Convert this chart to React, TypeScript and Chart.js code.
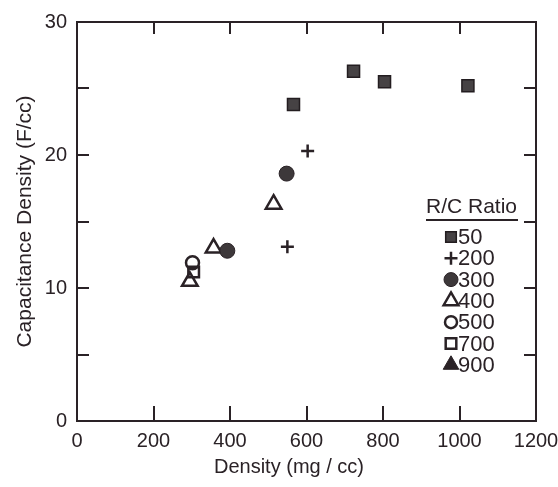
import React, { useEffect, useRef } from "react";
import { Chart, registerables } from "chart.js";
import { drawPoint } from "chart.js/helpers";

Chart.register(...registerables);

// R/C ratio series (x: density mg/cc, y: capacitance density F/cc)
const ratioLabels = ["50", "200", "300", "400", "500", "700", "900"];
const rc50X = [566, 723, 804, 1022];
const rc50Y = [23.8, 26.3, 25.5, 25.2];
const rc200X = [603, 550];
const rc200Y = [20.3, 13.1];
const rc300X = [548, 393];
const rc300Y = [18.6, 12.8];
const rc400X = [514, 357, 295];
const rc400Y = [16.3, 13.0, 10.5];
const rc500X = [302];
const rc500Y = [11.9];
const rc700X = [305];
const rc700Y = [11.2];
const rc900X: number[] = [];
const rc900Y: number[] = [];

const xTicksMajor = [0, 200, 400, 600, 800, 1000, 1200];
const yTicksMinor = [0, 5, 10, 15, 20, 25, 30];
const xTitle = "Density (mg / cc)";
const yTitle = "Capacitance Density (F/cc)";
const legendTitle = "R/C Ratio";

const INK = "#2a2226";
const FONT = "'Liberation Sans', Arial, sans-serif";

const pts = (xs: number[], ys: number[]) => xs.map((x, i) => ({ x, y: ys[i] }));

const framePlugin = {
  id: "frame",
  beforeDatasetsDraw(chart: any) {
    const { ctx, chartArea: a, scales } = chart;
    const xs = scales.x, ys = scales.y;
    ctx.save();
    ctx.strokeStyle = INK;
    ctx.lineWidth = 2;
    ctx.strokeRect(a.left, a.top, a.right - a.left, a.bottom - a.top);
    ctx.lineWidth = 2;
    ctx.beginPath();
    xTicksMajor.slice(1, -1).forEach((v) => {
      const px = Math.round(xs.getPixelForValue(v));
      ctx.moveTo(px, a.bottom);
      ctx.lineTo(px, a.bottom - 15);
      ctx.moveTo(px, a.top);
      ctx.lineTo(px, a.top + 12);
    });
    yTicksMinor.slice(1, -1).forEach((v) => {
      const py = Math.round(ys.getPixelForValue(v));
      ctx.moveTo(a.left, py);
      ctx.lineTo(a.left + 12, py);
      ctx.moveTo(a.right, py);
      ctx.lineTo(a.right - 12, py);
    });
    ctx.stroke();
    // axis titles
    ctx.fillStyle = INK;
    ctx.font = `20px ${FONT}`;
    ctx.textAlign = "center";
    ctx.textBaseline = "middle";
    ctx.fillText(xTitle, 289, 467);
    ctx.font = `21px ${FONT}`;
    ctx.translate(25, (a.top + a.bottom) / 2);
    ctx.rotate(-Math.PI / 2);
    ctx.fillText(yTitle, 0, 0);
    ctx.restore();
  },
  afterDraw(chart: any) {
    const { ctx } = chart;
    ctx.save();
    ctx.fillStyle = INK;
    ctx.strokeStyle = INK;
    ctx.font = `21px ${FONT}`;
    ctx.textAlign = "left";
    ctx.textBaseline = "alphabetic";
    ctx.fillText(legendTitle, 426, 213);
    ctx.lineWidth = 2;
    ctx.beginPath();
    ctx.moveTo(426, 220);
    ctx.lineTo(518, 220);
    ctx.stroke();
    ctx.textBaseline = "middle";
    ctx.font = `22px ${FONT}`;
    chart.data.datasets.forEach((ds: any, i: number) => {
      const cy = 237 + i * 21.3;
      ctx.save();
      ctx.fillStyle = ds.backgroundColor;
      ctx.strokeStyle = ds.borderColor;
      ctx.lineWidth = ds.borderWidth;
      drawPoint(ctx, { pointStyle: ds.pointStyle, rotation: 0, radius: ds.legendRadius, borderWidth: ds.borderWidth }, 451, cy);
      ctx.restore();
      ctx.fillStyle = INK;
      ctx.fillText(ratioLabels[i], 458, cy + 1);
    });
    ctx.restore();
  },
};

export default function App() {
  const ref = useRef<HTMLCanvasElement>(null);
  useEffect(() => {
    document.body.style.margin = "0";
    const chart = new Chart(ref.current!, {
      type: "scatter",
      data: {
        datasets: [
          { label: ratioLabels[0], data: pts(rc50X, rc50Y), pointStyle: "rect", pointRadius: 8.5, legendRadius: 7.5, backgroundColor: "#464244", borderColor: "#231d20", borderWidth: 1.5 } as any,
          { label: ratioLabels[1], data: pts(rc200X, rc200Y), pointStyle: "cross", pointRadius: 6.5, legendRadius: 6.5, backgroundColor: INK, borderColor: INK, borderWidth: 2.5 } as any,
          { label: ratioLabels[2], data: pts(rc300X, rc300Y), pointStyle: "circle", pointRadius: 7.5, legendRadius: 7, backgroundColor: "#3d383a", borderColor: "#2a2226", borderWidth: 1 } as any,
          { label: ratioLabels[3], data: pts(rc400X, rc400Y), pointStyle: "triangle", pointRadius: 9, legendRadius: 8.5, backgroundColor: "rgba(255,255,255,0)", borderColor: INK, borderWidth: 2.5 } as any,
          { label: ratioLabels[4], data: pts(rc500X, rc500Y), pointStyle: "circle", pointRadius: 6.5, legendRadius: 6, backgroundColor: "rgba(255,255,255,0)", borderColor: INK, borderWidth: 2.5 } as any,
          { label: ratioLabels[5], data: pts(rc700X, rc700Y), pointStyle: "rect", pointRadius: 7.5, legendRadius: 7.5, backgroundColor: "rgba(255,255,255,0)", borderColor: INK, borderWidth: 2.5 } as any,
          { label: ratioLabels[6], data: pts(rc900X, rc900Y), pointStyle: "triangle", pointRadius: 9, legendRadius: 9, backgroundColor: "#2a2226", borderColor: INK, borderWidth: 1 } as any,
        ],
      },
      options: {
        responsive: false,
        animation: false,
        layout: { padding: { top: 22, right: 0, left: 0, bottom: 0 } },
        plugins: { legend: { display: false }, tooltip: { enabled: false } },
        scales: {
          x: {
            type: "linear",
            min: 0,
            max: 1200,
            grid: { display: false, drawTicks: false, tickLength: 0 },
            border: { display: false },
            ticks: { stepSize: 200, padding: 8, color: INK, font: { family: FONT, size: 20 }, callback: (v: any) => String(v) },
            afterFit: (s: any) => { s.height = 66; s.paddingLeft = 0; s.paddingRight = 22; },
          },
          y: {
            type: "linear",
            min: 0,
            max: 30,
            grid: { display: false, drawTicks: false, tickLength: 0 },
            border: { display: false },
            ticks: { stepSize: 10, padding: 10, color: INK, font: { family: FONT, size: 20 }, callback: (v: any) => String(v) },
            afterFit: (s: any) => { s.width = 77; s.paddingTop = 0; s.paddingBottom = 0; },
          },
        },
      },
      plugins: [framePlugin],
    } as any);
    return () => chart.destroy();
  }, []);
  return (
    <div style={{ position: "absolute", left: 0, top: 0, width: 558, height: 487, background: "#fff" }}>
      <canvas ref={ref} width={558} height={487} style={{ width: 558, height: 487 }} />
    </div>
  );
}
